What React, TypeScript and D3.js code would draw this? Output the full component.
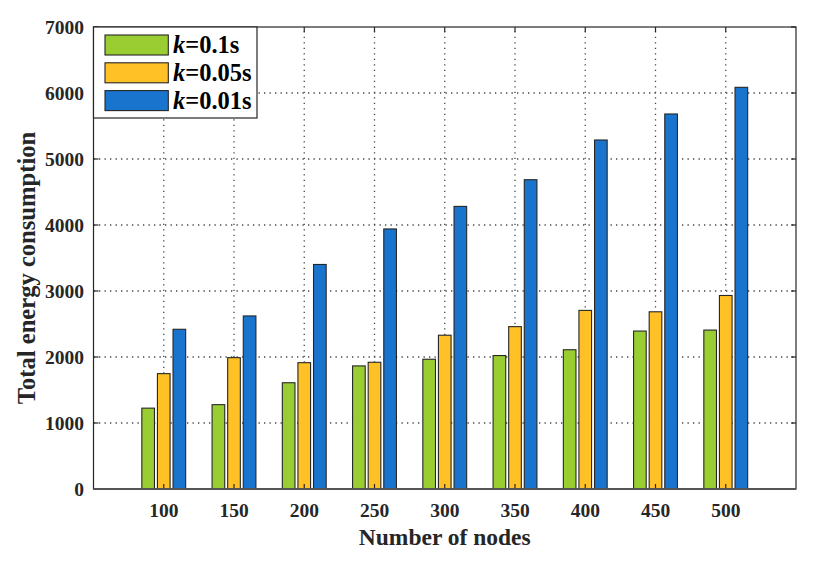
import React from 'react';
import * as d3 from 'd3';

// values
const nodes = [100, 150, 200, 250, 300, 350, 400, 450, 500];
const seriesNames = ['0.1s', '0.05s', '0.01s'];
const k01 = [1225, 1278, 1610, 1865, 1966, 2022, 2110, 2393, 2408];
const k005 = [1748, 1990, 1914, 1920, 2330, 2460, 2706, 2685, 2932];
const k001 = [2420, 2622, 3402, 3940, 4282, 4686, 5288, 5682, 6086];
const yTicks = [0, 1000, 2000, 3000, 4000, 5000, 6000, 7000];
const colors = ['#9acd32', '#ffc125', '#1874cd'];

const width = 830;
const height = 564;
const margin = { top: 27, right: 34, bottom: 75, left: 93.5 };
const font = '"Liberation Serif", "Times New Roman", serif';

const App = () => {
  const series = [k01, k005, k001];

  const x = d3.scaleLinear()
    .domain([50, 550])
    .range([margin.left, width - margin.right]);
  const y = d3.scaleLinear()
    .domain([0, 7000])
    .range([height - margin.bottom, margin.top]);

  const step = x(150) - x(100);
  const barW = step * 0.18;
  const offset = step * 0.222;
  const tick = 5;

  const x0 = x.range()[0];
  const x1 = x.range()[1];
  const y0 = y.range()[0];
  const y1 = y.range()[1];

  return (
    <div style={{ position: 'fixed', left: 0, top: 0 }}>
      <svg width={width} height={height} style={{ display: 'block', background: '#fff' }}>
        {/* grid */}
        <g stroke="#262626" strokeWidth={1.3} strokeDasharray="1.3,4.2" opacity={0.85}>
          {nodes.map(n => (
            <line key={'vx' + n} x1={x(n)} x2={x(n)} y1={y0} y2={y1} />
          ))}
          {yTicks.slice(1, -1).map(t => (
            <line key={'hy' + t} x1={x0} x2={x1} y1={y(t)} y2={y(t)} />
          ))}
        </g>

        {/* bars */}
        {series.map((s, si) => (
          <g key={si} fill={colors[si]} stroke="#262626" strokeWidth={1.1}>
            {s.map((v, i) => (
              <rect
                key={i}
                x={x(nodes[i]) + (si - 1) * offset - barW / 2}
                y={y(v)}
                width={barW}
                height={y(0) - y(v)}
              />
            ))}
          </g>
        ))}

        {/* box and ticks */}
        <g stroke="#262626" strokeWidth={1.2} fill="none">
          <rect x={x0} y={y1} width={x1 - x0} height={y0 - y1} />
          {nodes.map(n => (
            <g key={'t' + n}>
              <line x1={x(n)} x2={x(n)} y1={y0} y2={y0 - tick} />
              <line x1={x(n)} x2={x(n)} y1={y1} y2={y1 + tick} />
            </g>
          ))}
          {yTicks.map(t => (
            <g key={'ty' + t}>
              <line x1={x0} x2={x0 + tick} y1={y(t)} y2={y(t)} />
              <line x1={x1} x2={x1 - tick} y1={y(t)} y2={y(t)} />
            </g>
          ))}
        </g>
        <line x1={x0} x2={x1} y1={y0} y2={y0} stroke="#555" strokeWidth={2} />

        {/* tick labels */}
        <g fontFamily={font} fontWeight="bold" fontSize={19.5} fill="#262626">
          {nodes.map(n => (
            <text key={'lx' + n} x={x(n)} y={y0 + 28} textAnchor="middle">{n}</text>
          ))}
          {yTicks.map(t => (
            <text key={'ly' + t} x={x0 - 9.5} y={y(t) + 6.5} textAnchor="end">{t}</text>
          ))}
        </g>

        {/* axis titles */}
        <text
          x={(x0 + x1) / 2}
          y={545}
          textAnchor="middle"
          fontFamily={font}
          fontWeight="bold"
          fontSize={23.5}
          fill="#262626"
        >
          Number of nodes
        </text>
        <text
          transform={`translate(35,${268}) rotate(-90)`}
          textAnchor="middle"
          fontFamily={font}
          fontWeight="bold"
          fontSize={24.6}
          fill="#262626"
        >
          Total energy consumption
        </text>

        {/* legend */}
        <g>
          <rect x={x0} y={y1} width={163.5} height={91} fill="#fff" stroke="#262626" strokeWidth={1.2} />
          {seriesNames.map((name, i) => (
            <g key={name} transform={`translate(${x0 + 11.5},${y1 + 8 + i * 27.8})`}>
              <rect width={63.3} height={20} fill={colors[i]} stroke="#262626" strokeWidth={1.1} />
              <text
                x={68}
                y={18}
                fontFamily={font}
                fontWeight="bold"
                fontSize={24.5}
                fill="#000"
              >
                <tspan fontStyle="italic">k</tspan>={name}
              </text>
            </g>
          ))}
        </g>
      </svg>
    </div>
  );
};

export default App;
